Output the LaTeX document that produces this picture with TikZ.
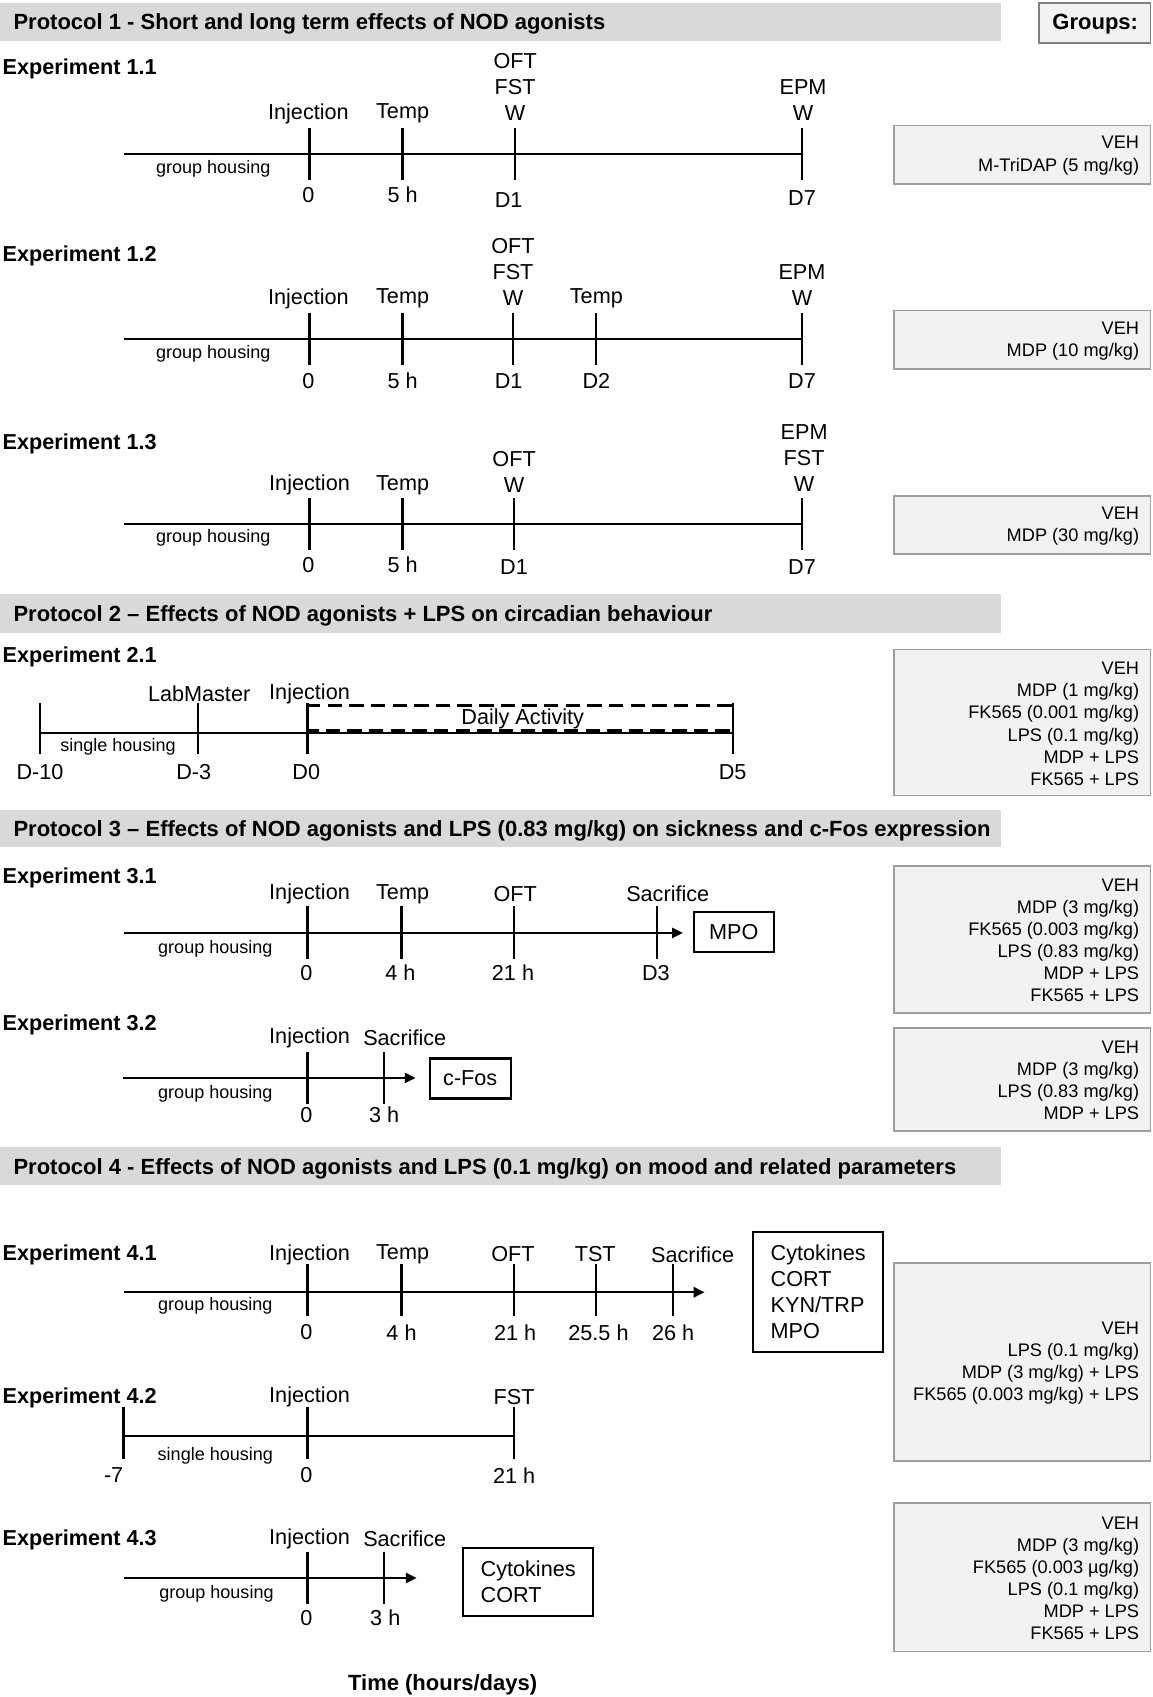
\documentclass[tikz,border=0pt]{standalone}
\usepackage{fontspec}
\setmainfont{Liberation Sans}
\usetikzlibrary{arrows.meta}

\definecolor{hdgray}{RGB}{217,217,217}
\definecolor{grpfill}{RGB}{242,242,242}
\definecolor{grpline}{RGB}{158,158,158}

\tikzset{every picture/.style={line width=0.75pt}}
\tikzset{
  tline/.style={line width=1.6pt},
  tarrow/.style={line width=1.6pt, -{Triangle[length=7.5pt,width=7pt]}},
  tickln/.style={line width=1.6pt},
  hdbar/.style={fill=hdgray, draw=none},
  hdtxt/.style={anchor=west, inner sep=0pt, yshift=-1.2pt, font=\bfseries\fontsize{15.25}{18}\selectfont},
  exptxt/.style={anchor=west, inner sep=0pt, yshift=-1.2pt, font=\bfseries\fontsize{15}{18}\selectfont},
  lbl/.style={inner sep=0pt, align=center, yshift=-0.8pt, font=\fontsize{15}{18}\selectfont},
  sml/.style={inner sep=0pt, font=\fontsize{12.5}{15}\selectfont},
  grpbox/.style={fill=grpfill, draw=grpline, line width=1.2pt},
  grptxt/.style={anchor=east, inner sep=0pt, align=right, yshift=-0.6pt, font=\fontsize{12.6}{15.3}\selectfont},
  outbox/.style={draw, line width=1.5pt, inner sep=0pt, align=left, font=\fontsize{15}{18}\selectfont},
}

\begin{document}
\begin{tikzpicture}[x=0.75pt,y=0.75pt,yscale=-1,xscale=1]
\useasboundingbox (0,0) rectangle (1065,1568);

%Header bars
\fill[hdbar] (0,3) rectangle (925,38);
\fill[hdbar] (0,549) rectangle (925,585);
\fill[hdbar] (0,748) rectangle (925,783);
\fill[hdbar] (0,1060) rectangle (925,1095);
% Text Node
\node[hdtxt] (prot1) at (12,20) {Protocol 1 - Short and long term effects of NOD agonists};
\node[hdtxt] (prot2) at (12,567) {Protocol 2 – Effects of NOD agonists + LPS on circadian behaviour};
\node[hdtxt] (prot3) at (12,766) {Protocol 3 – Effects of NOD agonists and LPS (0.83 mg/kg) on sickness and c-Fos expression};
\node[hdtxt] (prot4) at (12,1078) {Protocol 4 - Effects of NOD agonists and LPS (0.1 mg/kg) on mood and related parameters};
%Groups header
\draw[grpbox, draw=gray] (960,3) rectangle (1063,40);
\node[font=\bfseries\fontsize{15.25}{18}\selectfont, inner sep=0pt, yshift=-0.8pt] (groups) at (1012,21) {Groups:};

%%%%% Experiment 1.1
\node[exptxt] (e11) at (2,62) {Experiment 1.1};
\coordinate (s11) at (115,142);
\coordinate (t11) at (741,142);
\draw[tline] (s11) -- (t11);
\draw[tickln] (286,118) -- (286,166);
\draw[tickln] (372,118) -- (372,166);
\draw[tickln] (476,118) -- (476,166);
\draw[tickln] (741,118) -- (741,166);
% Text Node
\node[lbl] (e11inj) at (285,104) {Injection};
\node[lbl] (e11tmp) at (372,104) {Temp};
\node[lbl] (e11d1a) at (476,79) {OFT\\FST\\W};
\node[lbl] (e11d7a) at (742,91) {EPM\\W};
\node[lbl] (e11h0) at (285,179) {0};
\node[lbl] (e11h5) at (372,179) {5 h};
\node[lbl] (e11d1) at (470,184) {D1};
\node[lbl] (e11d7) at (741,182) {D7};
\node[sml] (e11hs) at (197,156) {group housing};
\draw[grpbox] (826,116) rectangle (1063,170);
\node[grptxt] (g11) at (1053,143) {VEH\\M-TriDAP (5 mg/kg)};

%%%%% Experiment 1.2
\node[exptxt] (e12) at (2,235) {Experiment 1.2};
\coordinate (s12) at (115,313);
\coordinate (t12) at (741,313);
\draw[tline] (s12) -- (t12);
\draw[tickln] (286,289) -- (286,337);
\draw[tickln] (372,289) -- (372,337);
\draw[tickln] (474,289) -- (474,337);
\draw[tickln] (551,289) -- (551,337);
\draw[tickln] (741,289) -- (741,337);
% Text Node
\node[lbl] (e12inj) at (285,275) {Injection};
\node[lbl] (e12tmp) at (372,275) {Temp};
\node[lbl] (e12d1a) at (474,250) {OFT\\FST\\W};
\node[lbl] (e12tmpb) at (551,275) {Temp};
\node[lbl] (e12d7a) at (741,262) {EPM\\W};
\node[lbl] (e12h0) at (285,351) {0};
\node[lbl] (e12h5) at (372,351) {5 h};
\node[lbl] (e12d1) at (470,351) {D1};
\node[lbl] (e12d2) at (551,351) {D2};
\node[lbl] (e12d7) at (741,351) {D7};
\node[sml] (e12hs) at (197,327) {group housing};
\draw[grpbox] (826,287) rectangle (1063,341);
\node[grptxt] (g12) at (1053,314) {VEH\\MDP (10 mg/kg)};

%%%%% Experiment 1.3
\node[exptxt] (e13) at (2,409) {Experiment 1.3};
\coordinate (s13) at (115,484);
\coordinate (t13) at (741,484);
\draw[tline] (s13) -- (t13);
\draw[tickln] (286,460) -- (286,508);
\draw[tickln] (372,460) -- (372,508);
\draw[tickln] (475,460) -- (475,508);
\draw[tickln] (741,460) -- (741,508);
% Text Node
\node[lbl] (e13inj) at (286,447) {Injection};
\node[lbl] (e13tmp) at (372,447) {Temp};
\node[lbl] (e13d1a) at (475,435) {OFT\\W};
\node[lbl] (e13d7a) at (743,422) {EPM\\FST\\W};
\node[lbl] (e13h0) at (285,521) {0};
\node[lbl] (e13h5) at (372,521) {5 h};
\node[lbl] (e13d1) at (475,523) {D1};
\node[lbl] (e13d7) at (741,523) {D7};
\node[sml] (e13hs) at (197,497) {group housing};
\draw[grpbox] (826,458) rectangle (1063,512);
\node[grptxt] (g13) at (1053,485) {VEH\\MDP (30 mg/kg)};

%%%%% Experiment 2.1
\node[exptxt] (e21) at (2,605) {Experiment 2.1};
\coordinate (s21) at (37,677);
\coordinate (t21) at (677,677);
\draw[tline] (s21) -- (t21);
\draw[tickln] (37,650) -- (37,697);
\draw[tickln] (183,650) -- (183,697);
\draw[tickln] (284,650) -- (284,697);
\draw[tickln] (677,650) -- (677,697);
%Dashed box
\draw[line width=1.6pt, dash pattern=on 10pt off 5pt] (284,652) rectangle (677,675);
% Text Node
\node[lbl] (e21act) at (483,663) {Daily Activity};
\node[lbl] (e21lab) at (184,640) {LabMaster};
\node[lbl] (e21inj) at (286,640) {Injection};
\node[lbl] (e21m10) at (37,712) {D-10};
\node[lbl] (e21m3) at (179,712) {D-3};
\node[lbl] (e21d0) at (283,712) {D0};
\node[lbl] (e21d5) at (677,712) {D5};
\node[sml] (e21hs) at (109,690) {single housing};
\draw[grpbox] (826,600) rectangle (1063,735);
\node[grptxt] (g21) at (1053,668) {VEH\\MDP (1 mg/kg)\\FK565 (0.001 mg/kg)\\LPS (0.1 mg/kg)\\MDP + LPS\\FK565 + LPS};

%%%%% Experiment 3.1
\node[exptxt] (e31) at (2,810) {Experiment 3.1};
\node[outbox, minimum width=55.5pt, minimum height=27.75pt] (mpo31) at (678,861.5) {MPO};
\coordinate (s31) at (115,862);
\draw[tarrow, shorten >=6.75pt] (s31) -- (s31 -| mpo31.west);
\draw[tickln] (284,837) -- (284,886);
\draw[tickln] (371,837) -- (371,886);
\draw[tickln] (475,837) -- (475,886);
\draw[tickln] (607,837) -- (607,886);
% Text Node
\node[lbl] (e31inj) at (286,825) {Injection};
\node[lbl] (e31tmp) at (372,825) {Temp};
\node[lbl] (e31oft) at (476,825) {OFT};
\node[lbl] (e31sac) at (617,825) {Sacrifice};
\node[lbl] (e31h0) at (283,898) {0};
\node[lbl] (e31h4) at (370,898) {4 h};
\node[lbl] (e31h21) at (474,898) {21 h};
\node[lbl] (e31d3) at (606,898) {D3};
\node[sml] (e31hs) at (199,877) {group housing};
\draw[grpbox] (826,800) rectangle (1063,936);
\node[grptxt] (g31) at (1053,868) {VEH\\MDP (3 mg/kg)\\FK565 (0.003 mg/kg)\\LPS (0.83 mg/kg)\\MDP + LPS\\FK565 + LPS};

%%%%% Experiment 3.2
\node[exptxt] (e32) at (2,945) {Experiment 3.2};
\node[outbox, minimum width=56.25pt, minimum height=27.75pt] (cfos32) at (434.5,996.5) {c-Fos};
\coordinate (s32) at (114,996);
\draw[tarrow, shorten >=9pt] (s32) -- (s32 -| cfos32.west);
\draw[tickln] (284,972) -- (284,1020);
\draw[tickln] (355,972) -- (355,1020);
% Text Node
\node[lbl] (e32inj) at (286,958) {Injection};
\node[lbl] (e32sac) at (374,958) {Sacrifice};
\node[lbl] (e32h0) at (283,1029) {0};
\node[lbl] (e32h3) at (355,1029) {3 h};
\node[sml] (e32hs) at (199,1011) {group housing};
\draw[grpbox] (826,950) rectangle (1063,1045);
\node[grptxt] (g32) at (1053,997.5) {VEH\\MDP (3 mg/kg)\\LPS (0.83 mg/kg)\\MDP + LPS};

%%%%% Experiment 4.1
\node[exptxt] (e41) at (2,1158) {Experiment 4.1};
\node[outbox, minimum width=90pt, minimum height=83.25pt] (cyt41) at (756,1193.5) {Cytokines\\CORT\\KYN/TRP\\MPO};
\coordinate (s41) at (115,1194);
\draw[tarrow, shorten >=33pt] (s41) -- (s41 -| cyt41.west);
\draw[tickln] (284,1168) -- (284,1216);
\draw[tickln] (371,1168) -- (371,1216);
\draw[tickln] (475,1168) -- (475,1216);
\draw[tickln] (551,1168) -- (551,1216);
\draw[tickln] (622,1168) -- (622,1216);
% Text Node
\node[lbl] (e41inj) at (286,1158) {Injection};
\node[lbl] (e41tmp) at (372,1158) {Temp};
\node[lbl] (e41oft) at (474,1158) {OFT};
\node[lbl] (e41tst) at (550,1158) {TST};
\node[lbl] (e41sac) at (640,1158) {Sacrifice};
\node[lbl] (e41h0) at (283,1230) {0};
\node[lbl] (e41h4) at (371,1230) {4 h};
\node[lbl] (e41h21) at (476,1230) {21 h};
\node[lbl] (e41h25) at (553,1230) {25.5 h};
\node[lbl] (e41h26) at (622,1230) {26 h};
\node[sml] (e41hs) at (199,1207) {group housing};
\draw[grpbox] (826,1167) rectangle (1063,1350);
\node[grptxt] (g41) at (1053,1258.5) {VEH\\LPS (0.1 mg/kg)\\MDP (3 mg/kg) + LPS\\FK565 (0.003 mg/kg) + LPS};

%%%%% Experiment 4.2
\node[exptxt] (e42) at (2,1290) {Experiment 4.2};
\coordinate (s42) at (114,1327);
\coordinate (t42) at (475,1327);
\draw[tline] (s42) -- (t42);
\draw[tickln] (114,1300) -- (114,1348);
\draw[tickln] (284,1300) -- (284,1348);
\draw[tickln] (475,1300) -- (475,1348);
% Text Node
\node[lbl] (e42inj) at (286,1290) {Injection};
\node[lbl] (e42fst) at (475,1290) {FST};
\node[lbl] (e42m7) at (105,1362) {-7};
\node[lbl] (e42h0) at (283,1362) {0};
\node[lbl] (e42h21) at (475,1362) {21 h};
\node[sml] (e42hs) at (199,1345) {single housing};

%%%%% Experiment 4.3
\node[exptxt] (e43) at (2,1421) {Experiment 4.3};
\node[outbox, minimum width=90pt, minimum height=47.25pt] (cyt43) at (488,1461.5) {Cytokines\\CORT};
\coordinate (s43) at (115,1458);
\draw[tarrow, shorten >=31.5pt] (s43) -- (s43 -| cyt43.west);
\draw[tickln] (284,1434) -- (284,1482);
\draw[tickln] (355,1434) -- (355,1482);
% Text Node
\node[lbl] (e43inj) at (286,1421) {Injection};
\node[lbl] (e43sac) at (374,1421) {Sacrifice};
\node[lbl] (e43h0) at (283,1494) {0};
\node[lbl] (e43h3) at (356,1494) {3 h};
\node[sml] (e43hs) at (200,1473) {group housing};
\draw[grpbox] (826,1389) rectangle (1063,1526);
\node[grptxt] (g43) at (1053,1457.5) {VEH\\MDP (3 mg/kg)\\FK565 (0.003 µg/kg)\\LPS (0.1 mg/kg)\\MDP + LPS\\FK565 + LPS};

% Text Node
\node[font=\bfseries\fontsize{15.25}{18}\selectfont, inner sep=0pt, yshift=-0.8pt] (taxis) at (409,1556) {Time (hours/days)};

\end{tikzpicture}
\end{document}
